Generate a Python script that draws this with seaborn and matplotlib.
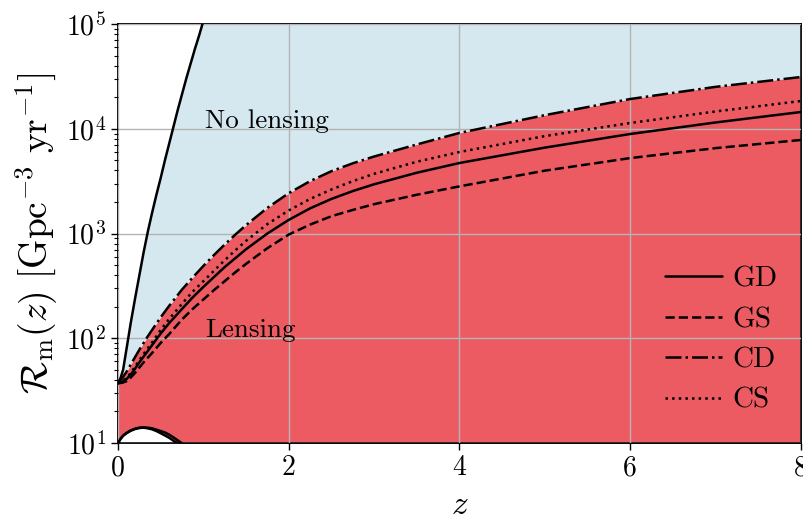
import numpy as np
import pandas as pd
import seaborn as sns
import matplotlib
matplotlib.use("Agg")
import matplotlib.pyplot as plt

# Merger-rate curves versus redshift z, given as log10 of the rate in Gpc^-3 yr^-1
z_grid = [0, 0.05, 0.1, 0.15, 0.2, 0.25, 0.3, 0.35, 0.4, 0.5, 0.6, 0.75, 0.875, 1.0,
          1.125, 1.25, 1.375, 1.5, 1.75, 2.0, 2.25, 2.5, 2.75, 3.0, 3.5, 4.0, 5.0, 6.0, 7.0, 8.0]
log10_rate_gd = [1.57, 1.585, 1.61, 1.655, 1.71, 1.77, 1.825, 1.88, 1.935, 2.045, 2.145, 2.28, 2.39, 2.49,
                 2.585, 2.68, 2.765, 2.85, 3.0, 3.13, 3.24, 3.33, 3.405, 3.47, 3.58, 3.673, 3.82, 3.95, 4.06, 4.16]
log10_rate_gs = [1.57, 1.575, 1.59, 1.625, 1.67, 1.72, 1.77, 1.815, 1.86, 1.955, 2.04, 2.18, 2.28, 2.37,
                 2.46, 2.545, 2.63, 2.71, 2.86, 2.99, 3.085, 3.165, 3.225, 3.28, 3.37, 3.45, 3.60, 3.72, 3.815, 3.893]
log10_rate_cd = [1.57, 1.62, 1.68, 1.75, 1.82, 1.89, 1.955, 2.02, 2.08, 2.20, 2.31, 2.465, 2.58, 2.69,
                 2.795, 2.895, 2.99, 3.08, 3.245, 3.385, 3.50, 3.595, 3.67, 3.735, 3.85, 3.96, 4.13, 4.284, 4.40, 4.494]
log10_rate_cs = [1.57, 1.59, 1.62, 1.67, 1.73, 1.79, 1.85, 1.905, 1.96, 2.08, 2.185, 2.33, 2.445, 2.545,
                 2.645, 2.745, 2.84, 2.93, 3.09, 3.22, 3.33, 3.42, 3.50, 3.57, 3.685, 3.778, 3.93, 4.055, 4.165, 4.265]

# Upper boundary of the no-lensing region
z_upper = [0, 0.03, 0.06, 0.08, 0.1, 0.12, 0.15, 0.2, 0.25, 0.3, 0.35, 0.4, 0.45, 0.5, 0.55,
           0.6, 0.65, 0.7, 0.75, 0.8, 0.85, 0.9, 0.95, 1.0, 1.05]
log10_rate_upper = [1.57, 1.62, 1.70, 1.80, 1.90, 2.0, 2.15, 2.38, 2.6, 2.82, 3.02, 3.2, 3.37, 3.53, 3.70,
                    3.86, 4.02, 4.18, 4.33, 4.48, 4.62, 4.76, 4.89, 5.03, 5.17]

# Low-redshift lower boundary of the lensing region (rate in Gpc^-3 yr^-1)
z_low = [0, 0.03, 0.06, 0.1, 0.15, 0.2, 0.25, 0.3, 0.35, 0.4, 0.45, 0.5, 0.55, 0.6, 0.65, 0.7, 0.75]
rate_low_outer = [10, 11.0, 11.8, 12.5, 13.2, 13.7, 14.0, 14.1, 14.0, 13.8, 13.4, 13.0, 12.6, 12.0, 11.3, 10.6, 9.9]
rate_low_inner = [10, 10.9, 11.7, 12.4, 13.1, 13.6, 13.9, 14.0, 13.8, 13.5, 13.0, 12.4, 11.8, 11.2, 10.5, 9.9, 9.3]

models = ["GD", "GS", "CD", "CS"]
model_rates = {"GD": np.power(10.0, log10_rate_gd), "GS": np.power(10.0, log10_rate_gs),
               "CD": np.power(10.0, log10_rate_cd), "CS": np.power(10.0, log10_rate_cs)}
model_styles = {"GD": "-", "GS": "--", "CD": "-.", "CS": ":"}
rate_upper = np.power(10.0, log10_rate_upper)

x_ticks = [0, 2, 4, 6, 8]

sns.set_theme(style="ticks")
plt.rcParams.update({
    "font.family": "serif",
    "font.serif": ["cmr10"],
    "mathtext.fontset": "cm",
    "axes.formatter.use_mathtext": True,
    "axes.unicode_minus": False,
    "text.color": "black",
    "axes.labelcolor": "black",
    "xtick.color": "black",
    "ytick.color": "black",
})

red = "#ec5b61"
blue = "#d5e8f0"

fig = plt.figure(figsize=(8.04, 5.19), dpi=100)
ax = fig.add_axes([118 / 804, 1 - 443 / 519, 683 / 804, 419 / 519])
ax.set_yscale("log")

# Shaded regions
ax.fill_between(z_grid, model_rates["CD"], 1e6, color=blue, lw=0, zorder=0.5)
ax.fill_between(z_grid, 1, model_rates["CD"], color=red, lw=0, zorder=0.6)
ax.fill_between(z_upper, rate_upper, 1e6, color="white", lw=0, zorder=0.7)
ax.fill_between(z_low, 1, rate_low_inner, color="white", lw=0, zorder=0.7)

lw = 1.8
for m in models:
    sns.lineplot(x=z_grid, y=model_rates[m], ax=ax, color="black", lw=lw,
                 linestyle=model_styles[m], label=m, zorder=3)
sns.lineplot(x=z_upper, y=rate_upper, ax=ax, color="black", lw=lw, zorder=3, legend=False)
sns.lineplot(x=z_low, y=rate_low_outer, ax=ax, color="black", lw=lw, zorder=3, legend=False)
sns.lineplot(x=z_low, y=rate_low_inner, ax=ax, color="black", lw=lw, zorder=3, legend=False)

ax.set_xlim(0, 8)
ax.set_ylim(10, 1e5)
ax.set_xticks(x_ticks)
ax.set_xticklabels([str(t) for t in x_ticks])
ax.grid(True, which="major", color="#b4b4b4", lw=1.0, zorder=2)
ax.set_axisbelow(False)

ax.tick_params(axis="both", which="major", direction="out", length=5, width=1.0,
               labelsize=20, colors="black")
ax.tick_params(axis="y", which="minor", direction="out", length=3, width=0.8)
for s in ax.spines.values():
    s.set_linewidth(1.3)
    s.set_color("black")

ax.set_xlabel(r"$z$", fontsize=24, labelpad=7)
ax.set_ylabel(r"$\mathcal{R}_{\rm m}(z)\ [{\rm Gpc}^{-3}\ {\rm yr}^{-1}]$", fontsize=27, labelpad=4)

ax.text(1.02, 1.17e4, "No lensing", fontsize=19.5, va="center", ha="left", zorder=4)
ax.text(1.02, 120, "Lensing", fontsize=19.5, va="center", ha="left", zorder=4)

leg = ax.legend(loc="lower right", bbox_to_anchor=(1.009, 0.0), frameon=False, fontsize=21,
                handlelength=1.95, labelspacing=0.48, handletextpad=0.38, borderaxespad=0.6)

fig.savefig("out.png", dpi=100)
